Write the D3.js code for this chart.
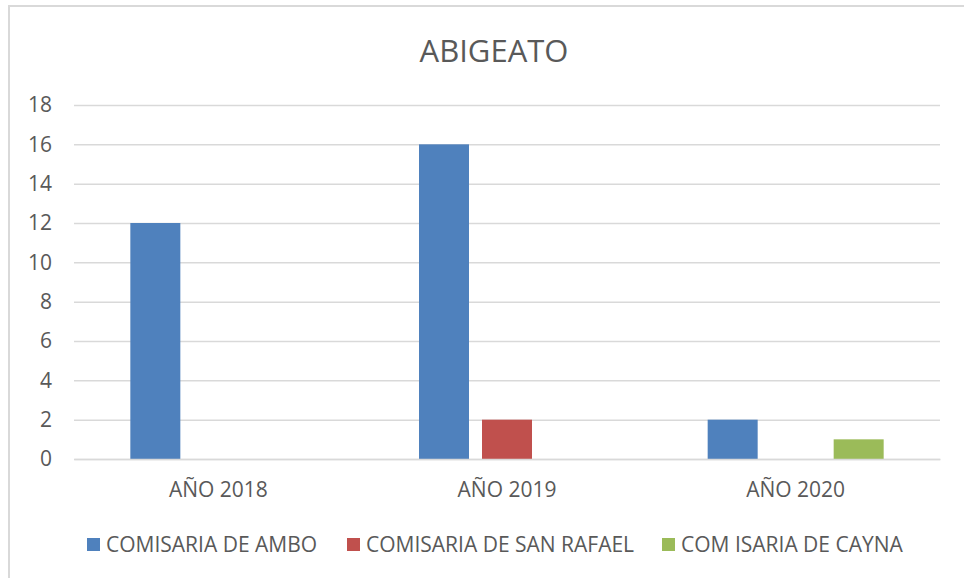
<!DOCTYPE html>
<html>
<head>
<meta charset="utf-8">
<script src="https://cdn.jsdelivr.net/npm/d3@7"></script>
<style>
    html, body { margin: 0; padding: 0; background: #fff; }
    svg { display: block; font-family: "Open Sans", sans-serif; }
</style>
</head>
<body>
<div class="chart"></div>
<script>
const title = 'ABIGEATO';
const categories = ['AÑO 2018', 'AÑO 2019', 'AÑO 2020'];
const seriesNames = ['COMISARIA DE AMBO', 'COMISARIA DE SAN RAFAEL', 'COM ISARIA DE CAYNA'];
const seriesColors = ['#4f81bd', '#c0504d', '#9bbb59'];
const ambo = [12, 16, 2];
const sanRafael = [0, 2, 0];
const cayna = [0, 0, 1];
const yTicks = [0, 2, 4, 6, 8, 10, 12, 14, 16, 18];

const seriesValues = [ambo, sanRafael, cayna];

const width = 964, height = 578;
const margin = {top: 105, right: 24, bottom: 119, left: 74};
const plotW = width - margin.left - margin.right;
const plotH = height - margin.top - margin.bottom;
const labelSize = 21;

const svg = d3.select('.chart').append('svg')
    .attr('width', width)
    .attr('height', height);

// chart frame (only left/top edges visible in the original crop)
svg.append('path')
    .attr('d', 'M 9,' + height + ' V 6 H ' + width)
    .attr('fill', 'none')
    .attr('stroke', '#d9d9d9')
    .attr('stroke-width', 2);

svg.append('text')
    .attr('x', 494)
    .attr('y', 62)
    .attr('text-anchor', 'middle')
    .attr('fill', '#595959')
    .attr('font-size', 31)
    .text(title);

const g = svg.append('g')
    .attr('transform', 'translate(' + margin.left + ',' + margin.top + ')');

const x0 = d3.scaleBand().domain(categories).range([0, plotW]).padding(0);
const groupW = 176;
const x1 = d3.scaleBand().domain(seriesNames).range([0, groupW]).paddingInner(13 / 63);
const y = d3.scaleLinear().domain([0, 18]).range([plotH, 0]);

const yAxis = d3.axisLeft(y).tickValues(yTicks).tickSize(-plotW).tickPadding(22);
const yAxisSvg = g.append('g').attr('class', 'y axis').call(yAxis);
yAxisSvg.select('.domain').remove();
yAxisSvg.selectAll('.tick line')
    .attr('stroke', '#d9d9d9')
    .attr('stroke-width', 1.5);
yAxisSvg.selectAll('.tick text')
    .attr('fill', '#595959')
    .attr('font-size', labelSize)
    .attr('font-family', '"Open Sans", sans-serif');

const groups = g.selectAll('g.group')
    .data(categories)
    .enter().append('g')
    .attr('class', 'group')
    .attr('transform', c => 'translate(' + (x0(c) + x0.bandwidth() / 2 - groupW / 2) + ',0)');

groups.selectAll('rect')
    .data((c, i) => seriesNames.map((s, j) => ({s: s, v: seriesValues[j][i], color: seriesColors[j]})))
    .enter().append('rect')
    .attr('x', d => x1(d.s))
    .attr('width', x1.bandwidth())
    .attr('y', d => y(d.v))
    .attr('height', d => plotH - y(d.v))
    .attr('fill', d => d.color);

const xAxis = d3.axisBottom(x0).tickSize(0).tickPadding(23);
const xAxisSvg = g.append('g')
    .attr('transform', 'translate(0,' + plotH + ')')
    .call(xAxis);
xAxisSvg.select('.domain')
    .attr('stroke', '#d9d9d9')
    .attr('stroke-width', 1.5);
xAxisSvg.selectAll('.tick text')
    .attr('fill', '#595959')
    .attr('font-size', labelSize)
    .attr('font-family', '"Open Sans", sans-serif');

// legend
const legendX = [87, 347, 662];
const legend = svg.append('g').attr('class', 'legend');
seriesNames.forEach((s, i) => {
    const item = legend.append('g').attr('transform', 'translate(' + legendX[i] + ',538)');
    item.append('rect').attr('width', 13).attr('height', 13).attr('fill', seriesColors[i]);
    item.append('text')
        .attr('x', 19)
        .attr('y', 14)
        .attr('fill', '#595959')
        .attr('font-size', labelSize)
        .text(s);
});
</script>
</body>
</html>
